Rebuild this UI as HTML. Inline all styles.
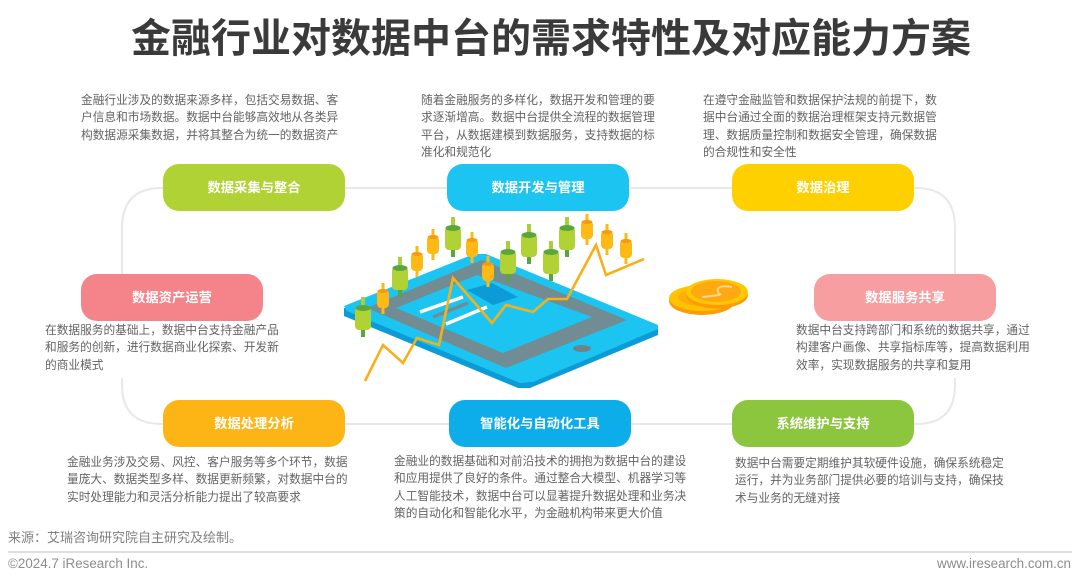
<!DOCTYPE html>
<html lang="zh"><head><meta charset="utf-8"><style>
html,body{margin:0;padding:0;background:#fff}
#p{position:relative;width:1080px;height:580px;overflow:hidden;background:#fff;font-family:"Liberation Sans","Noto Sans CJK SC",sans-serif}
svg{position:absolute;left:0;top:0}
.t{position:absolute;white-space:nowrap;color:#636363;font-size:11.7px;line-height:17.4px}
.b{position:absolute;width:182px;height:47px;border-radius:16px;color:#fff;font-weight:bold;font-size:13.3px;line-height:47px;text-align:center}
</style></head><body><div id="p">
<svg width="1080" height="580" viewBox="0 0 1080 580">
<g fill="none" stroke="#e8e8e8" stroke-width="2">
<path d="M345 188H447M630 188H732"/>
<path d="M163 188H162Q122 188 122 228V274"/>
<path d="M914 188H916Q955 188 955 228V274"/>
<path d="M122 378V385Q122 424 162 424H163"/>
<path d="M955 378V385Q955 424 916 424H914"/>
<path d="M345 424H449M630 424H732"/>
</g>
<polygon points="344,308 344,316 518,388 530,388 658,335 658,327" fill="#0b9bd7"/>
<polygon points="344,306 474,254 486,254 658,325 658,329 533,382 520,383 347,311" fill="#1cc5f1"/>
<polygon points="367,308 482,260 627,320 506,368" fill="#718c93"/>
<polygon points="396,308 477,275 592,317 503,353" fill="#1cc5f1"/>
<polygon points="467,290 492,283 518,297 493,305" fill="#0b9bd7"/>
<path d="M420 312L463 297M446 324L487 307" stroke="#fff" stroke-width="3.5"/>
<path d="M433 317L468 303" stroke="#718c93" stroke-width="3.5"/>
<ellipse cx="582" cy="348.500" rx="9" ry="3.500" fill="#6f8288"/>
<defs>
<g id="g"><rect x="-2" y="-21" width="4" height="40" fill="#a9cf3d"/><rect x="-2" y="9" width="4" height="10" fill="#5aa63c"/><rect x="-8" y="-11" width="16" height="23" rx="4" fill="#b1d234"/><ellipse cx="0" cy="-10" rx="7.500" ry="3" fill="#5aa63c"/></g>
<g id="o"><rect x="-1.500" y="-16" width="3" height="31" fill="#ffb914"/><rect x="-6" y="-9" width="12" height="18" rx="4" fill="#ffb914"/><ellipse cx="0" cy="-8" rx="5.500" ry="2" fill="#f59a14"/></g>
</defs>
<use href="#g" x="363" y="318"/><use href="#o" x="383" y="299"/><use href="#g" x="400" y="278"/>
<use href="#o" x="417" y="262"/><use href="#o" x="433" y="245"/><use href="#g" x="453" y="238"/>
<use href="#o" x="472" y="248"/><use href="#g" x="508" y="262"/><use href="#g" x="529" y="245"/>
<use href="#g" x="551" y="262"/><use href="#g" x="567" y="238"/><use href="#o" x="587" y="230"/>
<use href="#o" x="607" y="240"/><use href="#o" x="626" y="249"/>
<polyline points="365,381 383,345 403,363 417,338 439,345 453,278 492,323 506,305 533,312 548,299 567,299 596,245 606,275 644,259" fill="none" stroke="#f8af18" stroke-width="2.600"/>
<use href="#o" x="488" y="272"/>
<g>
<ellipse cx="702" cy="301" rx="33" ry="14" fill="#ff9a00"/>
<ellipse cx="702" cy="298" rx="33" ry="13" fill="#ffc400"/>
<ellipse cx="702" cy="297" rx="24" ry="9" fill="#ffae0a"/>
<ellipse cx="717" cy="295" rx="31" ry="13.500" fill="#ff9a00"/>
<ellipse cx="717" cy="292" rx="31" ry="13" fill="#ffc800"/>
<ellipse cx="716" cy="291.500" rx="25" ry="10.500" fill="#ffa912"/>
<path d="M732 287Q719 285 718 289T720 294T702 297" fill="none" stroke="#ffd88a" stroke-width="2"/>
</g>
<line x1="8" y1="552" x2="1072" y2="552" stroke="#bfbfbf" stroke-width="1"/>
</svg>
<div style="position:absolute;left:131px;top:15px;font-size:40px;line-height:48px;font-weight:bold;color:#3a3a3a;white-space:nowrap">金融行业对数据中台的需求特性及对应能力方案</div>

<div class="t" style="left:81px;top:92px">金融行业涉及的数据来源多样，包括交易数据、客<br>户信息和市场数据。数据中台能够高效地从各类异<br>构数据源采集数据，并将其整合为统一的数据资产</div>
<div class="t" style="left:421px;top:92px">随着金融服务的多样化，数据开发和管理的要<br>求逐渐增高。数据中台提供全流程的数据管理<br>平台，从数据建模到数据服务，支持数据的标<br>准化和规范化</div>
<div class="t" style="left:703px;top:92px">在遵守金融监管和数据保护法规的前提下，数<br>据中台通过全面的数据治理框架支持元数据管<br>理、数据质量控制和数据安全管理，确保数据<br>的合规性和安全性</div>

<div class="b" style="left:163px;top:164px;background:#b1d234">数据采集与整合</div>
<div class="b" style="left:447px;top:164px;background:#1cc5f1">数据开发与管理</div>
<div class="b" style="left:732px;top:164px;background:#ffd000">数据治理</div>
<div class="b" style="left:81px;top:274px;background:#f5848a">数据资产运营</div>
<div class="b" style="left:814px;top:274px;background:#f79ea0">数据服务共享</div>
<div class="b" style="left:163px;top:400px;background:#fdb515">数据处理分析</div>
<div class="b" style="left:449px;top:400px;background:#0cade8">智能化与自动化工具</div>
<div class="b" style="left:732px;top:400px;background:#8cc63e">系统维护与支持</div>

<div class="t" style="left:45px;top:322px">在数据服务的基础上，数据中台支持金融产品<br>和服务的创新，进行数据商业化探索、开发新<br>的商业模式</div>
<div class="t" style="left:796px;top:322px">数据中台支持跨部门和系统的数据共享，通过<br>构建客户画像、共享指标库等，提高数据利用<br>效率，实现数据服务的共享和复用</div>
<div class="t" style="left:67px;top:454px">金融业务涉及交易、风控、客户服务等多个环节，数据<br>量庞大、数据类型多样、数据更新频繁，对数据中台的<br>实时处理能力和灵活分析能力提出了较高要求</div>
<div class="t" style="left:394px;top:453px">金融业的数据基础和对前沿技术的拥抱为数据中台的建设<br>和应用提供了良好的条件。通过整合大模型、机器学习等<br>人工智能技术，数据中台可以显著提升数据处理和业务决<br>策的自动化和智能化水平，为金融机构带来更大价值</div>
<div class="t" style="left:735px;top:455px">数据中台需要定期维护其软硬件设施，确保系统稳定<br>运行，并为业务部门提供必要的培训与支持，确保技<br>术与业务的无缝对接</div>

<div style="position:absolute;left:8px;top:529px;font-size:13px;line-height:18px;color:#7f7f7f;white-space:nowrap">来源：艾瑞咨询研究院自主研究及绘制。</div>
<div style="position:absolute;left:8px;top:556px;font-size:13.400px;line-height:16px;color:#8c8c8c;white-space:nowrap">©2024.7 iResearch Inc.</div>
<div style="position:absolute;right:9px;top:556px;font-size:13.400px;line-height:16px;color:#8c8c8c;white-space:nowrap">www.iresearch.com.cn</div>
</div></body></html>
